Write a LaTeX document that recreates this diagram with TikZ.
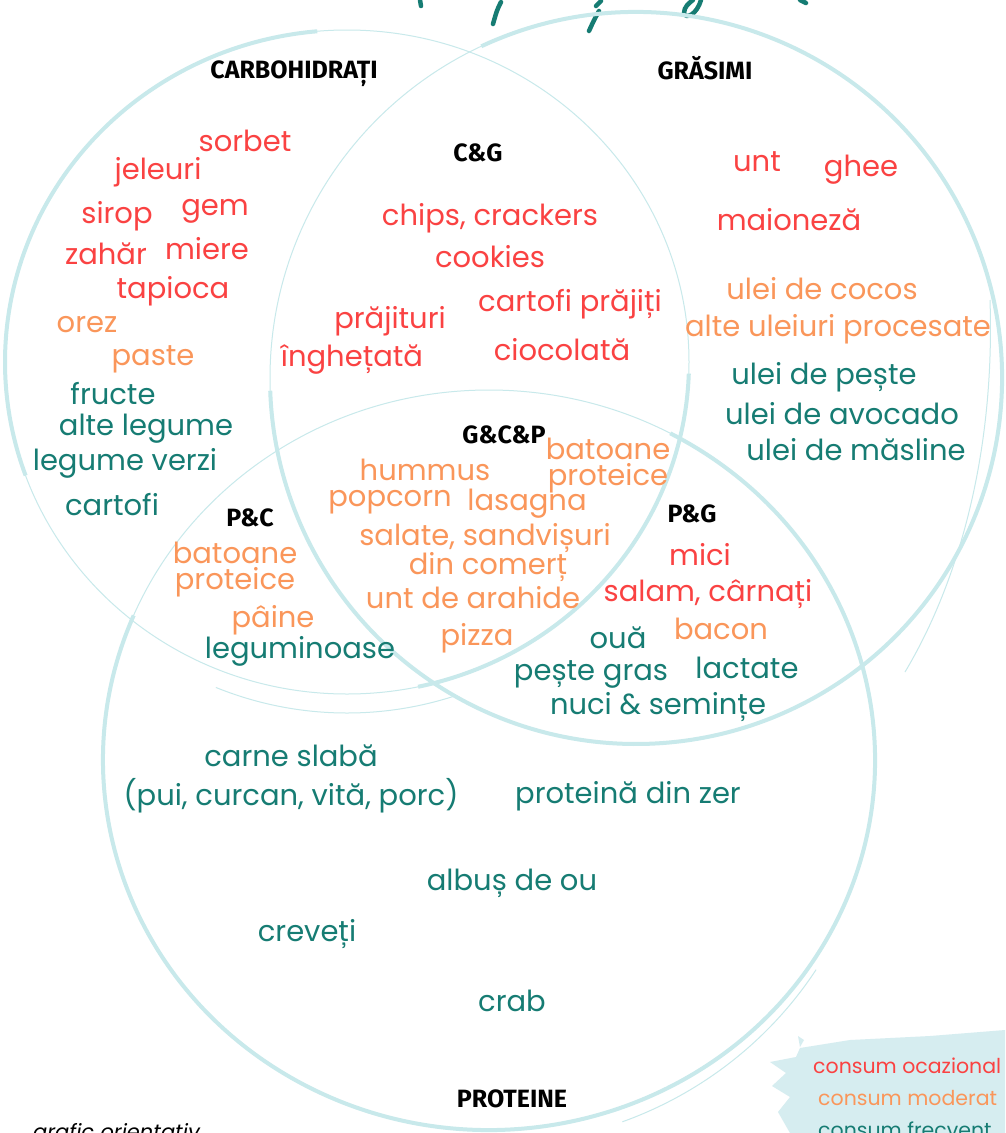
\documentclass[tikz,border=0pt]{standalone}
\usepackage{fontspec}
\setmainfont{Poppins}
\newfontfamily\headfont{Fira Sans}

\definecolor{venn}{RGB}{200,233,235}
\definecolor{pata}{RGB}{214,237,240}
\definecolor{rosu}{RGB}{250,66,66}
\definecolor{portocaliu}{RGB}{250,150,90}
\definecolor{verde}{RGB}{22,124,115}

\tikzset{
  cerc/.style={draw=venn, line width=1pt},
  cercgros/.style={draw=venn, line width=4pt},
  aliment/.style={inner sep=0pt, align=center, font=\fontsize{29}{26}\selectfont},
  ocaz/.style={aliment, text=rosu},
  moder/.style={aliment, text=portocaliu},
  frecv/.style={aliment, text=verde},
  titlu/.style={inner sep=0pt, font=\headfont\bfseries\fontsize{25}{25}\selectfont},
  legenda/.style={inner sep=0pt, anchor=west, font=\fontsize{20.5}{20.5}\selectfont},
}

\begin{document}
\begin{tikzpicture}[x=1pt, y=-1pt]
  \clip (0,0) rectangle (1005,1133);
  \fill[white] (0,0) rectangle (1005,1133);

  % title strokes cut off at the top
  \begin{scope}[draw=verde, line width=4.5pt, line cap=round]
    \draw (420,0) -- (421,6);
    \draw (501,2) .. controls (497,10) .. (493,24);
    \draw (601,1) .. controls (598,4) .. (596,6);
    \draw (599,11) .. controls (594,20) .. (589,31);
    \draw (701,0) .. controls (697,14) and (686,20) .. (684,13) .. controls (684,7) and (689,3) .. (693,0);
    \draw (800,0) -- (806,3);
  \end{scope}

  % Carbohidrati
  \draw[cerc] (347,362) ellipse [x radius=342, y radius=332];
  \draw[cercgros, shift={(347,362)}] (160:342 and 332) arc[start angle=160, end angle=265, x radius=342, y radius=332];
  \draw[cercgros, shift={(347,362)}] (2:342 and 332) arc[start angle=2, end angle=78, x radius=342, y radius=332];
  \draw[cerc, shift={(347,362)}] (72:350 and 351) arc[start angle=72, end angle=112, x radius=350, y radius=351];

  % Grasimi
  \draw[cerc] (636,378) circle [radius=366];
  \draw[cercgros, shift={(636,378)}] (-115:366) arc[start angle=-115, end angle=178, radius=366];
  \draw[cerc] (990,300) .. controls (995,450) and (960,580) .. (905,672);

  % Proteine
  \draw[cerc] (489,760) ellipse [x radius=386, y radius=370];
  \draw[cercgros, shift={(489,760)}] (-62:386 and 370) arc[start angle=-62, end angle=203, x radius=386, y radius=370];
  \draw[cerc, shift={(489,760)}] (33:390 and 385) arc[start angle=33, end angle=70, x radius=390, y radius=385];

  % region labels
  \node[titlu] (carbo) at (294,74) {CARBOHIDRAȚI};
  \node[titlu] (grasimi) at (705,68) {GRĂSIMI};
  \node[titlu] (cg) at (478,153) {C\&G};
  \node[titlu] (gcp) at (504,435) {G\&C\&P};
  \node[titlu] (pc) at (250,518) {P\&C};
  \node[titlu] (pg) at (692,514) {P\&G};
  \node[titlu] (proteine) at (512,1099) {PROTEINE};

  % C
  \node[ocaz] (sorbet) at (245,141) {sorbet};
  \node[ocaz] (jeleuri) at (158,172) {jeleuri};
  \node[ocaz] (sirop) at (117,216) {sirop};
  \node[ocaz] (gem) at (215,211) {gem};
  \node[ocaz] (zahar) at (106,254) {zahăr};
  \node[ocaz] (miere) at (207,249) {miere};
  \node[ocaz] (tapioca) at (173,291) {tapioca};
  \node[moder] (orez) at (87,325) {orez};
  \node[moder] (paste) at (153,359) {paste};
  \node[frecv] (fructe) at (113,394) {fructe};
  \node[frecv] (altelegume) at (146,429) {alte legume};
  \node[frecv] (legumeverzi) at (125,463) {legume verzi};
  \node[frecv] (cartofi) at (112,505) {cartofi};

  % C&G
  \node[ocaz] (chips) at (490,218) {chips, crackers};
  \node[ocaz] (cookies) at (490,257) {cookies};
  \node[ocaz] (prajituri) at (390,321) {prăjituri};
  \node[ocaz] (cartofiprajiti) at (570,304) {cartofi prăjiți};
  \node[ocaz] (inghetata) at (352,360) {înghețată};
  \node[ocaz] (ciocolata) at (562,350) {ciocolată};

  % G
  \node[ocaz] (unt) at (757,162) {unt};
  \node[ocaz] (ghee) at (861,170) {ghee};
  \node[ocaz] (maioneza) at (789,220) {maioneză};
  \node[moder] (cocos) at (822,289) {ulei de cocos};
  \node[moder] (procesate) at (838,329) {alte uleiuri procesate};
  \node[frecv] (peste) at (824,377) {ulei de pește};
  \node[frecv] (avocado) at (842,414) {ulei de avocado};
  \node[frecv] (masline) at (856,450) {ulei de măsline};

  % G&C&P
  \node[moder] (hummus) at (425,470) {hummus};
  \node[moder] (batoane) at (608,466) {batoane\\proteice};
  \node[moder] (popcorn) at (390,502) {popcorn};
  \node[moder] (lasagna) at (527,504) {lasagna};
  \node[moder] (salate) at (485,538) {salate, sandvișuri};
  \node[moder] (comert) at (488,567) {din comerț};
  \node[moder] (arahide) at (473,598) {unt de arahide};
  \node[moder] (pizza) at (477,638) {pizza};

  % P&C
  \node[moder] (batoanepc) at (235,570) {batoane\\proteice};
  \node[moder] (paine) at (273,620) {pâine};
  \node[frecv] (leguminoase) at (300,651) {leguminoase};

  % P&G
  \node[ocaz] (mici) at (700,555) {mici};
  \node[ocaz] (salam) at (708,594) {salam, cârnați};
  \node[moder] (bacon) at (721,629) {bacon};
  \node[frecv] (oua) at (618,638) {ouă};
  \node[frecv] (lactate) at (747,668) {lactate};
  \node[frecv] (pestegras) at (591,674) {pește gras};
  \node[frecv] (nuci) at (658,707) {nuci \& semințe};

  % P
  \node[frecv] (carne) at (291,756) {carne slabă};
  \node[frecv] (pui) at (291,796) {(pui, curcan, vită, porc)};
  \node[frecv] (zer) at (628,796) {proteină din zer};
  \node[frecv] (albus) at (512,883) {albuș de ou};
  \node[frecv] (creveti) at (307,934) {creveți};
  \node[frecv] (crab) at (512,1001) {crab};

  % legend
  \fill[pata] (800,1048) -- (850,1040) -- (930,1036) -- (1005,1030) -- (1005,1133)
    -- (790,1133) -- (778,1112) -- (790,1097) -- (772,1086) -- (786,1073)
    -- (770,1062) -- (796,1057) -- cycle;
  \fill[pata] (798,1036) -- (804,1040) -- (800,1047) -- cycle;
  \node[legenda, text=rosu] (ocazional) at (813,1066) {consum ocazional};
  \node[legenda, text=portocaliu] (moderat) at (818,1098) {consum moderat};
  \node[legenda, text=verde] (frecvent) at (818,1130) {consum frecvent};

  \node[anchor=base west, inner sep=0pt, font=\itshape\fontsize{21}{21}\selectfont] (grafic) at (33,1139) {grafic orientativ};
\end{tikzpicture}
\end{document}
